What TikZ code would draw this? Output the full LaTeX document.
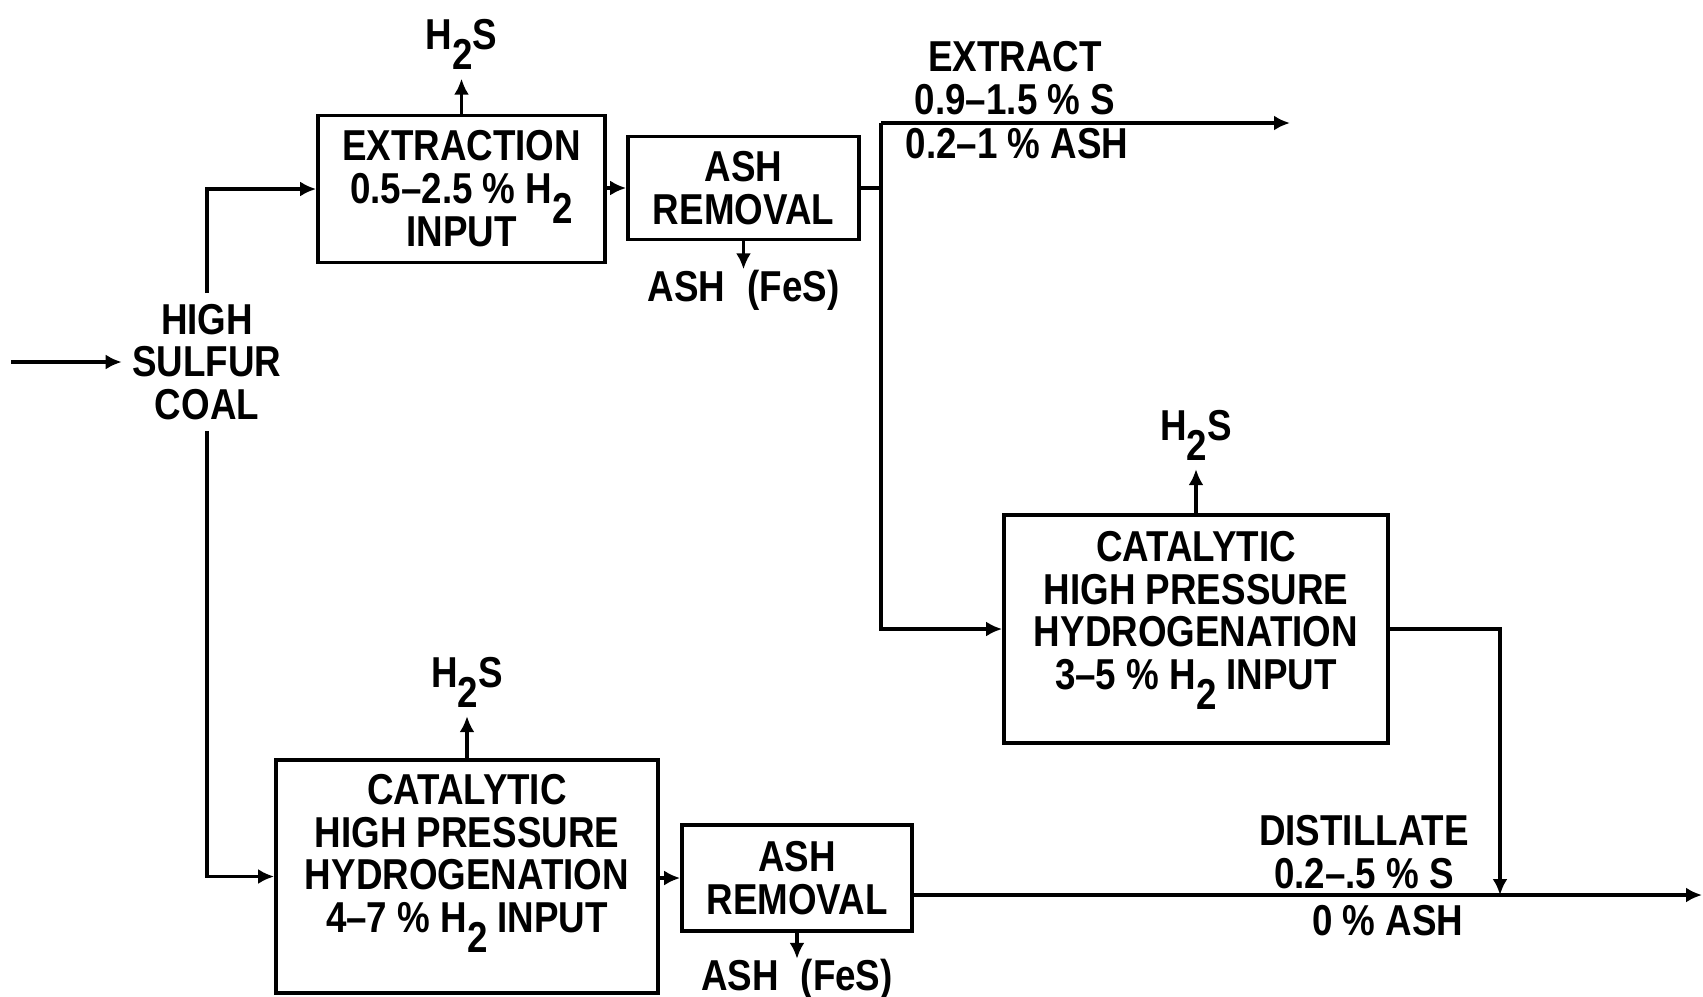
\documentclass[tikz,border=0pt]{standalone}
\usepackage{fontspec}
\setmainfont{Liberation Sans}[FakeStretch=0.85]
\usetikzlibrary{arrows.meta, positioning}

\newcommand{\subtwo}{\raisebox{-0.46em}[0pt][0pt]{2}}

\begin{document}
\begin{tikzpicture}[
		x=0.01cm, y=-0.01cm,
		every node/.style={font=\fontsize{12.3}{12.2}\selectfont\bfseries},
		unit/.style={draw, line width=1pt, inner sep=0pt, align=center},
		lbl/.style={align=center, inner sep=0pt},
		gas/.style={inner sep=0pt, text depth=0.28cm},
		pipe/.style={line width=1pt},
		flow/.style={line width=1pt, -{Latex[length=1.6mm, width=1.5mm]}}
		]
		\useasboundingbox (0,0) rectangle (1703,996);
		
		% ==========================================
		% 1. PROCESS UNITS
		% ==========================================
		\node[unit, minimum width=2.87cm, minimum height=1.47cm] (extr) at (461.5,189) {EXTRACTION\\0.5–2.5 \% H\subtwo\\INPUT};
		\node[unit, minimum width=2.31cm, minimum height=1.03cm] (ash1) at (743.5,188) {ASH\\REMOVAL};
		
		\node[unit, minimum width=3.84cm, minimum height=2.28cm] (hydB) at (1196,629) {};
		\node[lbl, anchor=north] (hydB-txt) at ([yshift=-0.17cm]hydB.north) {CATALYTIC\\HIGH PRESSURE\\HYDROGENATION\\3–5 \% H\subtwo{} INPUT};
		
		\node[unit, minimum width=3.82cm, minimum height=2.33cm] (hydA) at (467,876.5) {};
		\node[lbl, anchor=north] (hydA-txt) at ([yshift=-0.15cm]hydA.north) {CATALYTIC\\HIGH PRESSURE\\HYDROGENATION\\4–7 \% H\subtwo{} INPUT};
		\node[unit, minimum width=2.30cm, minimum height=1.06cm] (ash2) at (797,878) {ASH\\REMOVAL};
		
		% ==========================================
		% 2. FEED, SIDE STREAMS AND PRODUCTS
		% ==========================================
		\node[lbl, inner sep=0.1cm] (coal) at (207,362) {HIGH\\SULFUR\\COAL};
		\coordinate (feed) at (11,362);
		
		\node[gas, above=0.35cm of extr] (h2s-a) {H\subtwo S};
		\node[gas, above=0.44cm of hydB] (h2s-b) {H\subtwo S};
		\node[gas, above=0.42cm of hydA] (h2s-c) {H\subtwo S};
		
		\node[lbl, below=0.28cm of ash1] (ash1-out) {ASH\hspace{0.22cm}(FeS)};
		\node[lbl, below=0.26cm of ash2] (ash2-out) {ASH\hspace{0.22cm}(FeS)};
		
		\coordinate (split) at (881,123);
		\coordinate (extract) at (1290,123);
		\coordinate (merge) at (1500,895);
		\coordinate (product) at (1702,895);
		
		\node[lbl, anchor=south] (ext-up) at (1015,116) {EXTRACT\\0.9–1.5 \% S};
		\node[lbl, anchor=north] (ext-dn) at (1017,128) {0.2–1 \% ASH};
		\node[lbl, anchor=south] (dist-up) at (1364,890) {DISTILLATE\\0.2–.5 \% S};
		\node[lbl, anchor=north east] (dist-dn) at (1464,905) {0 \% ASH};
		
		% ==========================================
		% 3. FLOW LINES
		% ==========================================
		\draw[flow] (feed) -- (coal);
		\draw[flow] (coal.north) |- (extr);
		\draw[flow] (coal.south) |- (hydA);
		
		\draw[flow] (extr.east |- ash1.west) -- (ash1.west);
		\draw[pipe] (ash1.east) -- (ash1.east -| split);
		\draw[flow] (split) -- (extract);
		\draw[flow] (split) |- (hydB);
		\draw[flow] (hydB) -| (merge);
		
		\draw[flow] (hydA.east |- ash2.west) -- (ash2.west);
		\draw[flow] (ash2.east |- product) -- (product);
		
		\draw[flow] (extr.north) -- (h2s-a.south);
		\draw[flow] (hydB.north) -- (h2s-b.south);
		\draw[flow] (hydA.north) -- (h2s-c.south);
		\draw[flow] (ash1.south) -- (ash1-out.north);
		\draw[flow] (ash2.south) -- (ash2-out.north);
		
	\end{tikzpicture}
\end{document}
